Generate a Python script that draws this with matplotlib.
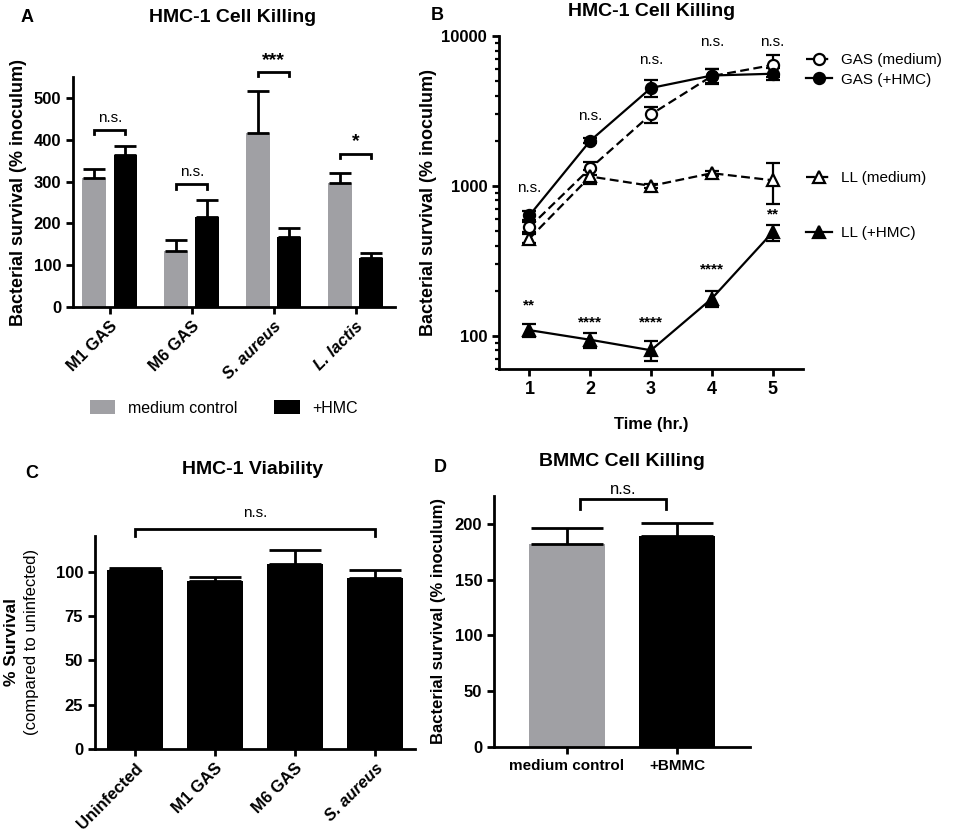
import numpy as np
import matplotlib
matplotlib.use('Agg')
import matplotlib.pyplot as plt
from matplotlib.ticker import LogLocator, NullFormatter
from matplotlib.patches import Patch

plt.rcParams['font.family'] = ['Liberation Sans', 'DejaVu Sans']
plt.rcParams['axes.linewidth'] = 1.6

GRAY = '#a0a0a4'

# ---- panel A: HMC-1 cell killing, bars
a_groups = ['M1 GAS', 'M6 GAS', 'S. aureus', 'L. lactis']
a_italic = [False, False, True, True]
a_medium = [308, 133, 417, 297]
a_medium_err = [23, 28, 100, 24]
a_hmc = [363, 215, 167, 116]
a_hmc_err = [21, 40, 23, 12]
a_sig = ['n.s.', 'n.s.', '***', '*']
a_bracket = [423, 293, 562, 367]

# ---- panel B: time course (log scale)
b_time = [1, 2, 3, 4, 5]
gas_med = [530, 1310, 3000, 5400, 6400]
gas_med_err = [40, 130, 370, 600, 1050]
gas_hmc = [635, 2000, 4500, 5450, 5600]
gas_hmc_err = [45, 80, 560, 600, 550]
ll_med = [445, 1155, 1000, 1215, 1090]
ll_med_err = [30, 120, 30, 50, 330]
ll_hmc = [109, 94, 80, 177, 490]
ll_hmc_err = [11, 11, 12, 22, 58]
b_sig_top = ['n.s.', 'n.s.', 'n.s.', 'n.s.', 'n.s.']
b_sig_top_y = [965, 2930, 6900, 9150, 9150]
b_sig_ll = ['**', '****', '****', '****', '**']
b_sig_ll_y = [160, 122, 122, 275, 640]

# ---- panel C: HMC-1 viability
c_groups = ['Uninfected', 'M1 GAS', 'M6 GAS', 'S. aureus']
c_italic = [False, False, False, True]
c_vals = [101, 94.6, 104, 96.4]
c_err = [1.2, 2.4, 8, 4.2]

# ---- panel D: BMMC cell killing
d_groups = ['medium control', '+BMMC']
d_vals = [182, 189]
d_err = [14, 12]

fig = plt.figure(figsize=(9.65, 8.33), dpi=100)
W, H = 965.0, 833.0


def axes_px(l, t, r, b):
    return fig.add_axes([l / W, 1 - b / H, (r - l) / W, (b - t) / H])


def style(ax):
    for s in ['top', 'right']:
        ax.spines[s].set_visible(False)
    for s in ['left', 'bottom']:
        ax.spines[s].set_linewidth(2)
    ax.tick_params(width=2, length=5, labelsize=12)


def bracket(ax, x0, x1, y, leg, text, ty, fs=11, bold=False):
    ax.plot([x0, x0, x1, x1], [y - leg, y, y, y - leg], color='black', lw=2,
            clip_on=False, solid_joinstyle='miter')
    ax.text((x0 + x1) / 2, ty, text, ha='center', va='center', fontsize=fs,
            fontweight='bold' if bold else 'normal', clip_on=False)


# ================= A
axA = axes_px(73, 77, 395, 307)
style(axA)
xa = np.arange(len(a_groups))
off = 0.19
bw = 0.29
ekw = dict(elinewidth=2, capthick=2, ecolor='black')
axA.bar(xa - off, a_medium, bw, color=GRAY,
        yerr=[np.zeros(4), a_medium_err], capsize=8, error_kw=ekw)
axA.bar(xa + off, a_hmc, bw, color='black',
        yerr=[np.zeros(4), a_hmc_err], capsize=8, error_kw=ekw)
axA.set_xlim(-0.45, 3.48)
axA.set_ylim(0, 550)
axA.set_yticks([0, 100, 200, 300, 400, 500],
               labels=['0', '100', '200', '300', '400', '500'], fontweight='bold')
axA.set_xticks(xa, labels=a_groups, fontweight='bold', rotation=45,
               ha='right', rotation_mode='anchor', fontsize=12)
for lbl, it in zip(axA.get_xticklabels(), a_italic):
    if it:
        lbl.set_fontstyle('italic')
for i, (s, y) in enumerate(zip(a_sig, a_bracket)):
    star = s != 'n.s.'
    bracket(axA, i - off, i + off, y, 10, s, y + (28 if star else 30),
            fs=14 if star else 11, bold=star)
axA.set_ylabel('Bacterial survival (% inoculum)', fontsize=13,
               fontweight='bold', labelpad=5)
fig.text(233 / W, 1 - 18 / H, 'HMC-1 Cell Killing', ha='center', va='center',
         fontsize=14, fontweight='bold')
fig.text(27 / W, 1 - 18 / H, 'A', ha='center', va='center', fontsize=13,
         fontweight='bold')
fig.legend(handles=[Patch(facecolor=GRAY), Patch(facecolor='black')],
           labels=['medium control', '+HMC'], loc='center',
           bbox_to_anchor=(224 / W, 1 - 408 / H), ncol=2, frameon=False,
           handlelength=1.6, handleheight=0.9, columnspacing=2.3,
           handletextpad=0.8, fontsize=11.5)

# ================= B
axB = axes_px(499, 36, 803, 369)
style(axB)
axB.set_yscale('log')
lkw = dict(color='black', lw=1.6, capsize=5, elinewidth=1.6, capthick=1.6,
           markersize=8, markeredgewidth=1.6)
e1 = axB.errorbar(b_time, gas_med, yerr=gas_med_err, marker='o', ls=(0, (4, 2)),
                  markerfacecolor='white', markeredgecolor='black', **lkw)
e2 = axB.errorbar(b_time, gas_hmc, yerr=gas_hmc_err, marker='o', ls='-',
                  markerfacecolor='black', **lkw)
e3 = axB.errorbar(b_time, ll_med, yerr=ll_med_err, marker='^', ls=(0, (4, 2)),
                  markerfacecolor='white', markeredgecolor='black', **lkw)
e4 = axB.errorbar(b_time, ll_hmc, yerr=ll_hmc_err, marker='^', ls='-',
                  markerfacecolor='black', **lkw)
axB.set_xlim(0.5, 5.5)
axB.set_ylim(60, 10000)
axB.set_xticks(b_time, labels=[str(t) for t in b_time], fontweight='bold',
               fontsize=13)
axB.set_yticks([100, 1000, 10000], labels=['100', '1000', '10000'],
               fontweight='bold')
axB.yaxis.set_minor_locator(LogLocator(base=10, subs=np.arange(2, 10)))
axB.yaxis.set_minor_formatter(NullFormatter())
axB.tick_params(which='minor', width=1.6, length=3)
for t, s, y in zip(b_time, b_sig_top, b_sig_top_y):
    axB.text(t, y, s, ha='center', va='center', fontsize=11, clip_on=False)
for t, s, y in zip(b_time, b_sig_ll, b_sig_ll_y):
    axB.text(t, y, s, ha='center', va='center', fontsize=11, fontweight='bold')
axB.set_xlabel('Time (hr.)', fontsize=12, fontweight='bold', labelpad=14)
axB.set_ylabel('Bacterial survival (% inoculum)', fontsize=13,
               fontweight='bold', labelpad=3)
lg_kw = dict(frameon=False, fontsize=11, handlelength=1.7, handletextpad=0.6,
             borderpad=0, borderaxespad=0, numpoints=1, loc='center left')
fig.legend([e1.lines[0], e2.lines[0]], ['GAS (medium)', 'GAS (+HMC)'],
           bbox_to_anchor=(806 / W, 1 - 70 / H), labelspacing=0.35, **lg_kw)
fig.legend([e3.lines[0]], ['LL (medium)'],
           bbox_to_anchor=(806 / W, 1 - 178 / H), **lg_kw)
fig.legend([e4.lines[0]], ['LL (+HMC)'],
           bbox_to_anchor=(806 / W, 1 - 233 / H), **lg_kw)
fig.text(652 / W, 1 - 12 / H, 'HMC-1 Cell Killing', ha='center', va='center',
         fontsize=14, fontweight='bold')
fig.text(437 / W, 1 - 15 / H, 'B', ha='center', va='center', fontsize=13,
         fontweight='bold')

# ================= C
axC = axes_px(95, 536, 415, 749)
style(axC)
xc = np.arange(len(c_groups))
axC.bar(xc, c_vals, 0.7, color='black', yerr=[np.zeros(4), c_err],
        capsize=19, error_kw=ekw)
axC.set_xlim(-0.5, 3.5)
axC.set_ylim(0, 120)
axC.set_yticks([0, 25, 50, 75, 100], labels=['0', '25', '50', '75', '100'],
               fontweight='bold')
axC.set_xticks(xc, labels=c_groups, fontweight='bold', rotation=45,
               ha='right', rotation_mode='anchor', fontsize=12)
for lbl, it in zip(axC.get_xticklabels(), c_italic):
    if it:
        lbl.set_fontstyle('italic')
bracket(axC, 0, 3, 124, 4, 'n.s.', 133)
fig.text(12 / W, 1 - 642 / H, '% Survival', rotation=90, ha='center',
         va='center', fontsize=12.5, fontweight='bold')
fig.text(32 / W, 1 - 642 / H, '(compared to uninfected)', rotation=90,
         ha='center', va='center', fontsize=12)
fig.text(253 / W, 1 - 470 / H, 'HMC-1 Viability', ha='center', va='center',
         fontsize=14, fontweight='bold')
fig.text(32 / W, 1 - 473 / H, 'C', ha='center', va='center', fontsize=13,
         fontweight='bold')

# ================= D
axD = axes_px(494, 496, 750, 747)
style(axD)
xd = np.arange(len(d_groups))
axD.bar(xd, d_vals, 0.69, color=[GRAY, 'black'], yerr=[np.zeros(2), d_err],
        capsize=26, error_kw=ekw)
axD.set_xlim(-0.66, 1.66)
axD.set_ylim(0, 225)
axD.set_yticks([0, 50, 100, 150, 200], labels=['0', '50', '100', '150', '200'],
               fontweight='bold')
axD.set_xticks(xd, labels=d_groups, fontweight='bold', fontsize=11)
bracket(axD, 0.12, 0.9, 222, 9, 'n.s.', 231, fs=12)
axD.set_ylabel('Bacterial survival (% inoculum)', fontsize=12,
               fontweight='bold', labelpad=6)
fig.text(622 / W, 1 - 462 / H, 'BMMC Cell Killing', ha='center', va='center',
         fontsize=14, fontweight='bold')
fig.text(440 / W, 1 - 468 / H, 'D', ha='center', va='center', fontsize=13,
         fontweight='bold')

fig.savefig('out.png', dpi=100)
